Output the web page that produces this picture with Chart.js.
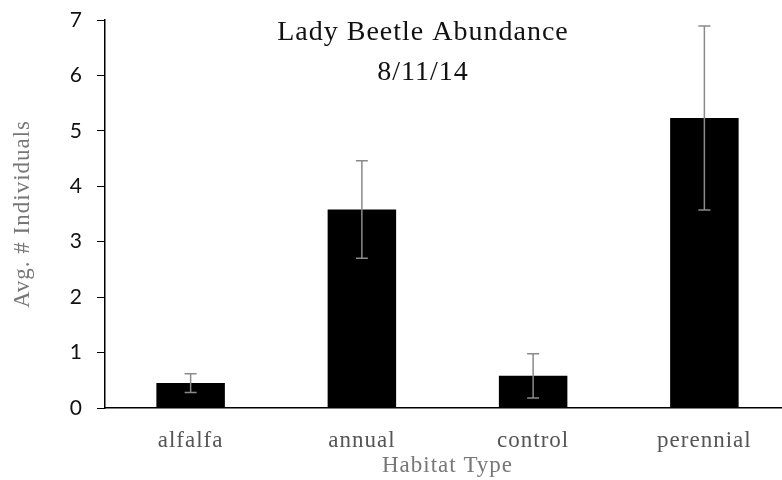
<!DOCTYPE html>
<html>
<head>
<meta charset="utf-8">
<script src="https://cdn.jsdelivr.net/npm/chart.js@4.4.0/dist/chart.umd.min.js"></script>
<style>
  html, body { margin: 0; padding: 0; background: #fff; overflow: hidden; }
  #wrap { width: 790px; height: 480px; }
</style>
</head>
<body>
<div id="wrap"><canvas id="beetles"></canvas></div>
<script>
// values
const habitats = ['alfalfa', 'annual', 'control', 'perennial'];
const avgIndividuals = [0.45, 3.58, 0.58, 5.23];
const stdErr = [0.17, 0.88, 0.40, 1.66];
const yTicks = [0, 1, 2, 3, 4, 5, 6, 7];

const serif = "'Liberation Serif', 'Times New Roman', serif";

// the original uses a wide garamond-ish face, so space the letters a bit
const spacing = {
  id: 'spacing',
  beforeDraw(chart) {
    chart.ctx.letterSpacing = '1px';
  }
};

// error bars drawn through the scales
const errorBars = {
  id: 'errorBars',
  afterDatasetsDraw(chart) {
    const ctx = chart.ctx;
    const x = chart.scales.x, y = chart.scales.y;
    ctx.save();
    ctx.strokeStyle = '#8a8a8a';
    ctx.lineWidth = 1.5;
    avgIndividuals.forEach(function(v, i) {
      const px = x.getPixelForValue(i);
      const top = y.getPixelForValue(v + stdErr[i]);
      const bot = y.getPixelForValue(v - stdErr[i]);
      ctx.beginPath();
      ctx.moveTo(px, top); ctx.lineTo(px, bot);
      ctx.moveTo(px - 6, top); ctx.lineTo(px + 6, top);
      ctx.moveTo(px - 6, bot); ctx.lineTo(px + 6, bot);
      ctx.stroke();
    });
    ctx.restore();
  }
};

// the title sits inside the plot area in the original
const innerTitle = {
  id: 'innerTitle',
  afterDraw(chart) {
    const ctx = chart.ctx;
    const a = chart.chartArea;
    ctx.save();
    ctx.fillStyle = '#111';
    ctx.font = '28px ' + serif;
    ctx.textAlign = 'center';
    ctx.textBaseline = 'middle';
    ctx.fillText('Lady Beetle Abundance', a.left + 318, a.top + 13);
    ctx.fillText('8/11/14', a.left + 318, a.top + 53);
    ctx.restore();
  }
};

const ctx = document.getElementById('beetles').getContext('2d');
new Chart(ctx, {
  type: 'bar',
  data: {
    labels: habitats,
    datasets: [{
      label: 'Avg. # Individuals',
      data: avgIndividuals,
      backgroundColor: '#000',
      borderWidth: 0,
      barPercentage: 0.4,
      categoryPercentage: 1
    }]
  },
  options: {
    responsive: true,
    maintainAspectRatio: false,
    animation: false,
    layout: { padding: 0 },
    plugins: {
      legend: { display: false },
      tooltip: { enabled: false }
    },
    scales: {
      x: {
        afterFit(axis) { axis.height = 72; },
        grid: { display: false, drawTicks: false },
        border: { display: true, color: '#000', width: 1.5 },
        ticks: {
          color: '#555',
          font: { family: serif, size: 23 },
          padding: 19
        },
        title: {
          display: true,
          text: 'Habitat Type',
          color: '#777',
          font: { family: serif, size: 23 },
          padding: { top: 0, bottom: 0 }
        }
      },
      y: {
        min: 0,
        max: 7,
        afterFit(axis) {
          axis.width = 105;
          axis.paddingTop = 20;
        },
        afterBuildTicks(axis) {
          axis.ticks = yTicks.map(v => ({ value: v }));
        },
        grid: {
          drawOnChartArea: false,
          color: '#000',
          tickLength: 8
        },
        border: { display: true, color: '#000', width: 1.5 },
        ticks: {
          color: '#111',
          font: { family: 'Lato', size: 21 },
          padding: 14
        },
        title: {
          display: true,
          text: 'Avg. # Individuals',
          color: '#777',
          font: { family: serif, size: 23 },
          padding: { top: 9, bottom: 0 }
        }
      }
    }
  },
  plugins: [spacing, errorBars, innerTitle]
});
</script>
</body>
</html>
